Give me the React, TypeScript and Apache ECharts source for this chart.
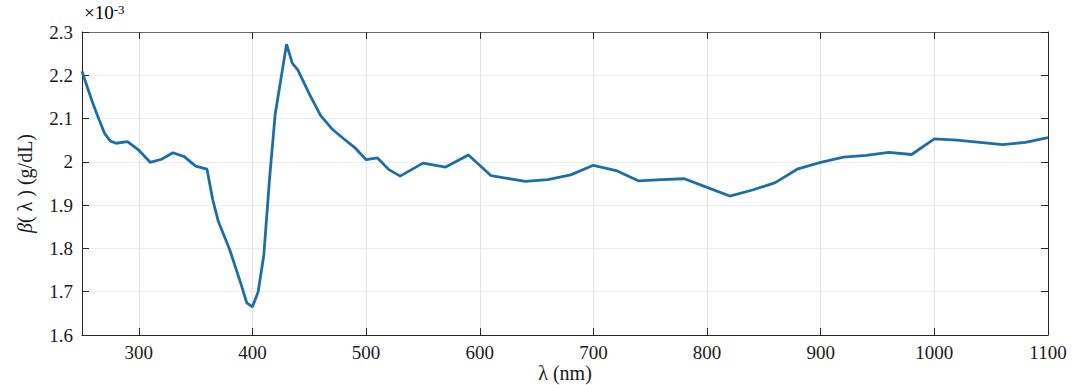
import React, { useEffect, useRef } from 'react';
import * as echarts from 'echarts';

const wavelengths = [
  250, 255, 260, 265, 270, 275, 280, 290, 300, 310, 320, 330, 340, 350, 360,
  365, 370, 380, 390, 395, 400, 405, 410, 415, 420, 430, 435, 440, 450, 460,
  470, 480, 490, 500, 510, 520, 530, 550, 570, 590, 610, 640, 660, 680, 700,
  720, 740, 760, 780, 800, 820, 840, 860, 880, 900, 920, 940, 960, 980, 1000,
  1020, 1040, 1060, 1080, 1100,
];

const beta = [
  2.209, 2.17, 2.132, 2.098, 2.065, 2.048, 2.043, 2.047, 2.027, 1.999, 2.006, 2.021, 2.012, 1.99, 1.983,
  1.913, 1.862, 1.797, 1.717, 1.674, 1.665, 1.7, 1.785, 1.96, 2.11, 2.272, 2.228, 2.212, 2.157, 2.107,
  2.076, 2.054, 2.033, 2.005, 2.009, 1.982, 1.967, 1.997, 1.988, 2.016, 1.968, 1.955, 1.959, 1.97, 1.992,
  1.98, 1.956, 1.959, 1.961, 1.941, 1.921, 1.935, 1.952, 1.984, 1.999, 2.011, 2.015, 2.022, 2.017, 2.053,
  2.05, 2.045, 2.04, 2.045, 2.056,
];

const xTickValues = [300, 400, 500, 600, 700, 800, 900, 1000, 1100];

const FONT = 'Liberation Serif';
const AXIS_COLOR = '#262626';
const TEXT_COLOR = '#1a1a1a';

export default function App() {
  const ref = useRef<HTMLDivElement>(null);

  useEffect(() => {
    if (!ref.current) return;
    const chart = echarts.init(ref.current, null, { renderer: 'svg' });
    const data = wavelengths.map((w, i) => [w, beta[i]]);
    chart.setOption({
      animation: false,
      backgroundColor: '#ffffff',
      textStyle: { fontFamily: FONT },
      grid: {
        left: 82,
        right: 30,
        top: 32,
        bottom: 50,
        outerBoundsMode: 'none',
      },
      xAxis: [
        {
          type: 'value',
          min: 250,
          max: 1100,
          name: 'λ (nm)',
          nameLocation: 'middle',
          nameGap: 28,
          nameMoveOverlap: false,
          nameTextStyle: { fontFamily: FONT, fontSize: 20, color: TEXT_COLOR },
          axisLine: { show: true, lineStyle: { color: AXIS_COLOR, width: 1 } },
          axisTick: {
            show: true,
            inside: true,
            length: 7,
            customValues: xTickValues,
            lineStyle: { color: AXIS_COLOR },
          },
          axisLabel: {
            customValues: xTickValues,
            fontFamily: FONT,
            fontSize: 19,
            color: TEXT_COLOR,
            margin: 8,
            formatter: (v: number) => String(v),
          },
          splitLine: { show: true, lineStyle: { color: '#e3e3e3', width: 1 } },
        },
        {
          type: 'value',
          position: 'top',
          min: 250,
          max: 1100,
          axisLine: { show: true, lineStyle: { color: '#6b6b6b', width: 1 } },
          axisTick: {
            show: true,
            inside: true,
            length: 7,
            customValues: xTickValues,
            lineStyle: { color: AXIS_COLOR },
          },
          axisLabel: { show: false },
          splitLine: { show: false },
        },
      ],
      yAxis: [
        {
          type: 'value',
          min: 1.6,
          max: 2.3,
          interval: 0.1,
          name: '{i|β}( λ ) (g/dL)',
          nameLocation: 'middle',
          nameGap: 47,
          nameMoveOverlap: false,
          nameTextStyle: {
            fontFamily: FONT,
            fontSize: 20,
            color: TEXT_COLOR,
            rich: {
              i: { fontFamily: FONT, fontSize: 20, fontStyle: 'italic', color: TEXT_COLOR },
            },
          },
          axisLine: { show: true, lineStyle: { color: AXIS_COLOR, width: 1 } },
          axisTick: { show: true, inside: true, length: 7, lineStyle: { color: AXIS_COLOR } },
          axisLabel: {
            fontFamily: FONT,
            fontSize: 19,
            color: TEXT_COLOR,
            margin: 9,
            formatter: (v: number) => String(Math.round(v * 10) / 10),
          },
          splitLine: { show: true, lineStyle: { color: '#ececec', width: 1 } },
        },
        {
          type: 'value',
          position: 'right',
          min: 1.6,
          max: 2.3,
          interval: 0.1,
          axisLine: { show: true, lineStyle: { color: AXIS_COLOR, width: 1 } },
          axisTick: { show: true, inside: true, length: 7, lineStyle: { color: AXIS_COLOR } },
          axisLabel: { show: false },
          splitLine: { show: false },
        },
      ],
      graphic: [
        {
          type: 'text',
          left: 84,
          top: 3,
          style: {
            text: '{a|×10}{b|-3}',
            rich: {
              a: { fontFamily: FONT, fontSize: 19, color: TEXT_COLOR, verticalAlign: 'bottom' },
              b: { fontFamily: FONT, fontSize: 13, color: TEXT_COLOR, verticalAlign: 'top' },
            },
          },
        },
      ],
      series: [
        {
          type: 'line',
          data,
          xAxisIndex: 0,
          yAxisIndex: 0,
          showSymbol: false,
          smooth: false,
          lineStyle: { color: '#1d6ea6', width: 2.8 },
        },
      ],
    });
    return () => chart.dispose();
  }, []);

  return (
    <div
      ref={ref}
      style={{ position: 'fixed', left: 0, top: 0, width: 1078, height: 385 }}
    />
  );
}
